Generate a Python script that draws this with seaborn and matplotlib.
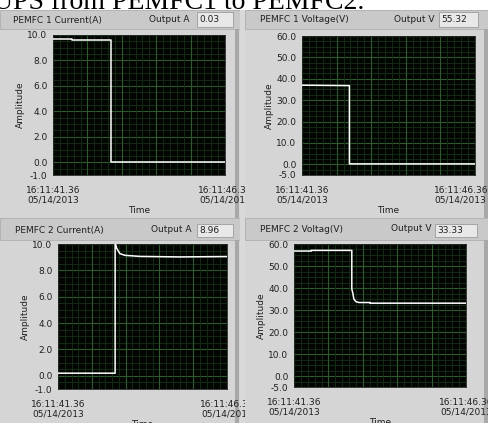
import numpy as np
import matplotlib
matplotlib.use("Agg")
import matplotlib.pyplot as plt
from matplotlib.patches import Rectangle
from matplotlib.transforms import Bbox, TransformedBbox, ScaledTranslation
import seaborn as sns

# data (time in s from 16:11:41.36)
t_pemfc1_current = [0.0, 0.55, 0.55, 1.69, 1.69, 5.0]
pemfc1_current = [9.66, 9.66, 9.6, 9.6, 0.03, 0.03]

t_pemfc1_voltage = [0.0, 1.37, 1.37, 5.0]
pemfc1_voltage = [37.0, 36.8, 0.2, 0.2]

t_pemfc2_current = [0.0, 1.69, 1.69, 1.74, 1.83, 1.98, 2.42, 3.6, 5.0]
pemfc2_current = [0.2, 0.2, 10.1, 9.66, 9.27, 9.14, 9.06, 9.02, 9.05]

t_pemfc2_voltage = [0.0, 0.5, 0.5, 1.68, 1.68, 1.71, 1.74, 1.80, 1.89, 2.21, 2.21, 5.0]
pemfc2_voltage = [56.8, 56.8, 57.1, 57.1, 39.5, 37.7, 35.0, 33.8, 33.4, 33.4, 33.1, 33.1]

titles = ["PEMFC 1 Current(A)", "PEMFC 1 Voltage(V)", "PEMFC 2 Current(A)", "PEMFC 2 Voltag(V)"]
output_names = ["Output A", "Output V", "Output A", "Output V"]
output_values = ["0.03", "55.32", "8.96", "33.33"]
current_ticks = [-1.0, 0.0, 2.0, 4.0, 6.0, 8.0, 10.0]
voltage_ticks = [-5.0, 0.0, 10.0, 20.0, 30.0, 40.0, 50.0, 60.0]
x_tick_labels = ["16:11:41.36\n05/14/2013", "16:11:46.36\n05/14/2013"]

sns.set_style("white")
plt.rcParams["font.family"] = ["DejaVu Sans"]
plt.rcParams["font.size"] = 6.5

W, H = 489, 423
fig = plt.figure(figsize=(W / 100, H / 100), dpi=100)
fig.patch.set_facecolor("#d5d5d5")


def rect(x0, y0, x1, y1, fc, ec="none", lw=0.0, z=-5):
    fig.patches.append(Rectangle((x0 / W, 1 - y1 / H), (x1 - x0) / W, (y1 - y0) / H,
                                 transform=fig.transFigure, fc=fc, ec=ec, lw=lw, zorder=z))


def ftext(x, y, s, **kw):
    fig.text(x / W, 1 - y / H, s, **kw)


# caption strip of the document above the screenshot (cut off)
rect(0, 0, W, 10, "white")
ftext(-7, 9, "UPS from PEMFC1 to PEMFC2.", family="Liberation Serif", fontsize=20,
      va="baseline", ha="left", color="black")

# panel chrome
panels = [(0, 10, 240, 218), (245, 10, 489, 218), (0, 218, 240, 423), (245, 218, 489, 423)]
bars = [(10, 29), (10, 29), (218, 240), (218, 240)]
for (x0, y0, x1, y1), (b0, b1) in zip(panels, bars):
    rect(x0, b0, x1, b1, "#c9c9c9", ec="#b0b0b0", lw=0.6)
    rect(x1 - 5, b1, x1 - 1, y1, "#a8a8a8")
rect(240, 10, 245, 423, "#d9d9d9")

# title bar texts and indicator boxes
title_pos = [(13, 20), (260, 20), (15, 230), (260, 229)]
out_right = [190, 435, 192, 432]
box_pos = [(197, 12, 233, 27), (439, 12, 478, 27), (197, 224, 233, 237), (435, 224, 477, 237)]
for i in range(4):
    tx, ty = title_pos[i]
    ftext(tx, ty, titles[i], va="center", ha="left", color="#202020")
    ftext(out_right[i], ty - 1, output_names[i], va="center", ha="right", color="#202020")
    bx0, by0, bx1, by1 = box_pos[i]
    rect(bx0, by0, bx1, by1, "#e8e8e8", ec="#9c9c9c", lw=0.6, z=-4)
    ftext(bx0 + 2, (by0 + by1) / 2, output_values[i], va="center", ha="left", color="#202020")

# plot areas in pixels: left, top, right, bottom
ax_px = [(53, 35, 225, 175), (302, 36, 475, 175), (58, 244, 227, 389), (294, 244, 466, 387)]
series = [(t_pemfc1_current, pemfc1_current), (t_pemfc1_voltage, pemfc1_voltage),
          (t_pemfc2_current, pemfc2_current), (t_pemfc2_voltage, pemfc2_voltage)]

for i in range(4):
    l, t, r, b = ax_px[i]
    ax = fig.add_axes([l / W, 1 - b / H, (r - l) / W, (b - t) / H])
    ax.set_facecolor("#020502")
    is_current = i in (0, 2)
    yticks = current_ticks if is_current else voltage_ticks
    ymin, ymax = yticks[0], yticks[-1]
    minor_step = 0.5 if is_current else 2.5

    # LabVIEW style grid
    for yv in np.arange(ymin, ymax + 0.01, minor_step):
        ax.axhline(yv, color="#173017", lw=0.6, zorder=0)
    for yv in yticks[1:]:
        ax.axhline(yv, color="#2f5a2f", lw=0.8, zorder=0)
    for xv in np.arange(0, 5.01, 0.2):
        ax.axvline(xv, color="#173017", lw=0.6, zorder=0)
    for xv in range(6):
        ax.axvline(xv, color="#2f5a2f", lw=0.8, zorder=0)

    tx, yv = series[i]
    sns.lineplot(x=tx, y=yv, ax=ax, color="white", lw=1.1, estimator=None, sort=False, zorder=3)

    ax.set_xlim(0, 5)
    ax.set_ylim(ymin, ymax)
    ax.set_yticks(yticks)
    ax.set_yticklabels([f"{v:.1f}" for v in yticks])
    ax.set_xticks([0, 5])
    ax.set_xticklabels(x_tick_labels, linespacing=1.1)
    ax.set_xticks(np.arange(0, 5.01, 0.1), minor=True)
    ax.tick_params(axis="y", length=3, width=0.7, color="#404040", pad=1, labelcolor="#202020")
    ax.tick_params(axis="x", which="major", length=0, pad=8, labelcolor="#202020")
    ax.tick_params(axis="x", which="minor", direction="in", length=4, width=0.8, color="#bdbdbd")
    ax.set_xlabel("Time", labelpad=1, color="#202020")
    ax.set_ylabel("Amplitude", labelpad=2, color="#202020")
    for sp in ax.spines.values():
        sp.set_color("#202020")
        sp.set_linewidth(0.6)

    # clip time labels at the panel border like the screenshot
    px0, py0, px1, py1 = panels[i]
    clip = TransformedBbox(Bbox([[px0 / W, 1 - py1 / H], [(px1 + 5) / W, 1 - py0 / H]]), fig.transFigure)
    labels = ax.get_xticklabels()
    for lab in labels:
        lab.set_multialignment("center")
        lab.set_clip_box(clip)
        lab.set_clip_on(True)
    if i == 1:
        labels[1].set_horizontalalignment("right")
        labels[1].set_transform(labels[1].get_transform() + ScaledTranslation(13 / 100, 0, fig.dpi_scale_trans))

fig.savefig("out.png", dpi=100, facecolor=fig.get_facecolor())
